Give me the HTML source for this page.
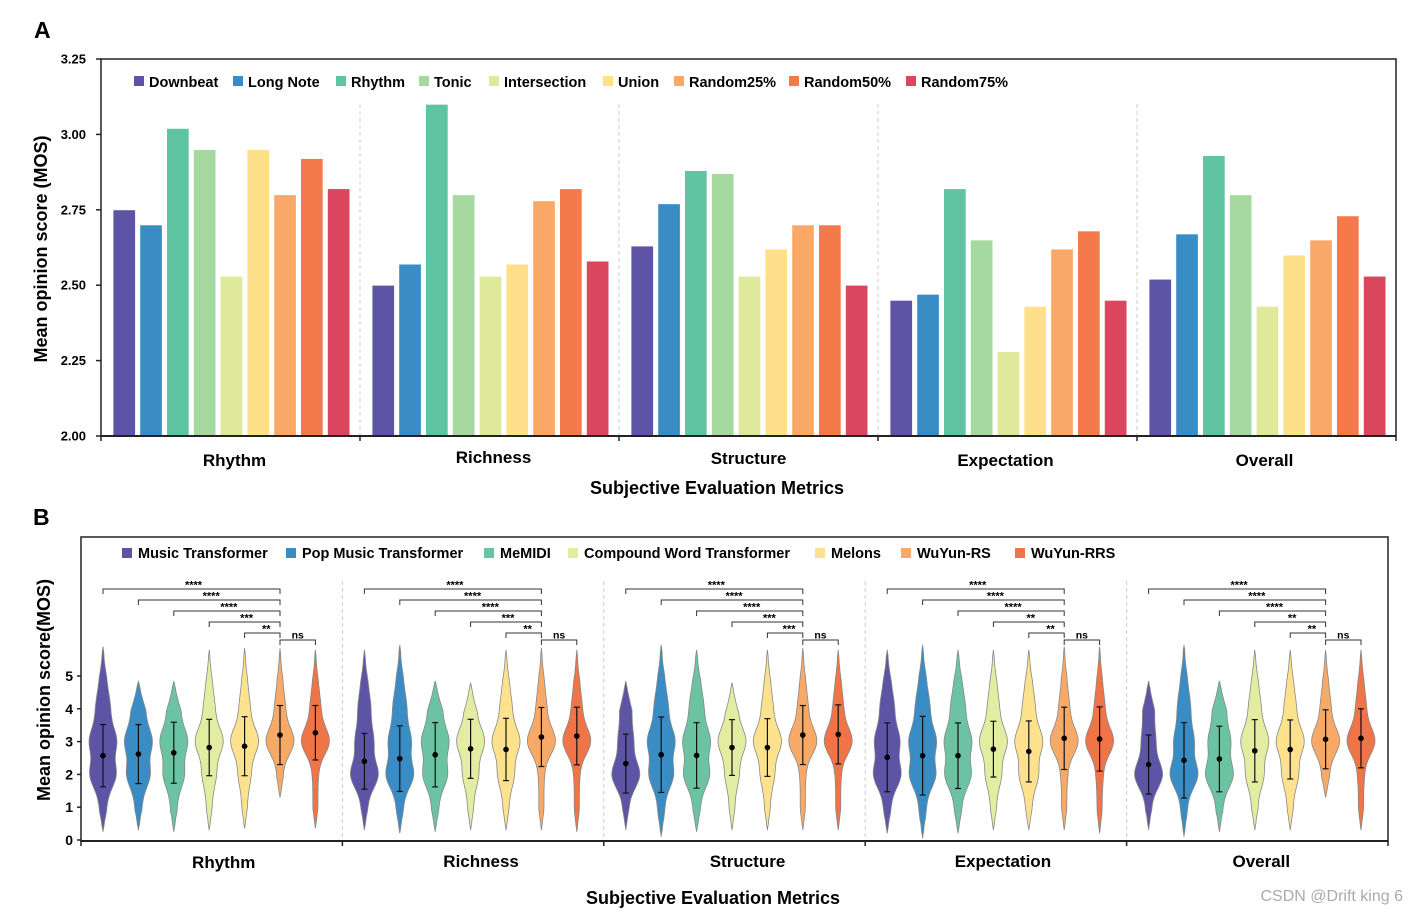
<!DOCTYPE html>
<html><head><meta charset="utf-8">
<style>
html,body{margin:0;padding:0;background:#fff;}
svg{display:block;font-family:"Liberation Sans",Arial,sans-serif;}
</style></head>
<body>
<svg id="chart" width="1418" height="914" viewBox="0 0 1418 914" xmlns="http://www.w3.org/2000/svg">
<text x="34" y="38" font-size="23" font-weight="bold">A</text>
<text x="33" y="525" font-size="23" font-weight="bold">B</text>
<g id="pa"></g>
<g id="pb"></g>
<text x="1403" y="901" font-size="16" fill="#aaa" text-anchor="end">CSDN @Drift king 6</text>
</svg>
<script>
// ---------- Panel A data ----------
const groupsA = ["Rhythm","Richness","Structure","Expectation","Overall"];
const seriesA = ["Downbeat","Long Note","Rhythm","Tonic","Intersection","Union","Random25%","Random50%","Random75%"];
const colorsA = ["#5e54a6","#3a8cc4","#5fc4a1","#a6d9a0","#dfe99c","#fee08b","#f9a867","#f47a4c","#d9465d"];
const valsRhythm = [2.75,2.70,3.02,2.95,2.53,2.95,2.80,2.92,2.82];
const valsRichness = [2.50,2.57,3.10,2.80,2.53,2.57,2.78,2.82,2.58];
const valsStructure = [2.63,2.77,2.88,2.87,2.53,2.62,2.70,2.70,2.50];
const valsExpectation = [2.45,2.47,2.82,2.65,2.28,2.43,2.62,2.68,2.45];
const valsOverall = [2.52,2.67,2.93,2.80,2.43,2.60,2.65,2.73,2.53];
const ticksA = [2.00,2.25,2.50,2.75,3.00,3.25];

// ---------- Panel B data ----------
const groupsB = ["Rhythm","Richness","Structure","Expectation","Overall"];
const seriesB = ["Music Transformer","Pop Music Transformer","MeMIDI","Compound Word Transformer","Melons","WuYun-RS","WuYun-RRS"];
const colorsB = ["#5e54a6","#3a8cc4","#6cc3a3","#e2eda2","#fde28e","#f7aa68","#ef7448"];
const meansB = [
 [2.57,2.62,2.66,2.82,2.86,3.20,3.27],
 [2.40,2.48,2.60,2.78,2.76,3.14,3.17],
 [2.33,2.60,2.58,2.82,2.82,3.20,3.22],
 [2.52,2.57,2.57,2.77,2.70,3.10,3.08],
 [2.30,2.43,2.47,2.72,2.76,3.07,3.10]];
const sdB = [
 [0.95,0.90,0.93,0.86,0.90,0.90,0.83],
 [0.85,1.00,0.98,0.90,0.95,0.90,0.88],
 [0.90,1.15,1.00,0.85,0.88,0.90,0.90],
 [1.05,1.20,1.00,0.85,0.93,0.95,0.98],
 [0.90,1.15,1.00,0.95,0.90,0.90,0.90]];
const minB = [
 [0.25,0.30,0.25,0.30,0.35,1.30,0.35],
 [0.30,0.20,0.25,0.30,0.30,0.30,0.25],
 [0.30,0.10,0.25,0.30,0.30,0.30,0.30],
 [0.20,0.05,0.20,0.30,0.30,0.30,0.20],
 [0.30,0.10,0.25,0.30,0.30,1.30,0.30]];
const maxB = [
 [5.90,4.85,4.85,5.80,5.85,5.85,5.80],
 [5.80,5.95,4.85,4.80,5.80,5.85,5.80],
 [4.85,5.95,5.80,4.80,5.80,5.85,5.80],
 [5.80,5.95,5.80,5.80,5.80,5.90,5.90],
 [4.85,5.95,4.85,5.80,5.80,5.80,5.80]];
const starsB = [
 ["****","****","****","***","**"],
 ["****","****","****","***","**"],
 ["****","****","****","***","***"],
 ["****","****","****","**","**"],
 ["****","****","****","**","**"]];
const ticksB = [0,1,2,3,4,5];

const NS="http://www.w3.org/2000/svg";
function mk(parent,tag,attrs,text){const e=document.createElementNS(NS,tag);for(const k in attrs)e.setAttribute(k,attrs[k]);if(text!==undefined)e.textContent=text;parent.appendChild(e);return e;}

// ===== Panel A =====
(function(){
 const g=document.getElementById('pa');
 const x0=101,x1=1396,yTop=59,yBot=436,vmin=2,vmax=3.25;
 const y=v=>yBot-(v-vmin)/(vmax-vmin)*(yBot-yTop);
 const gw=(x1-x0)/groupsA.length;
 const allVals=[valsRhythm,valsRichness,valsStructure,valsExpectation,valsOverall];
 const lblDx=[4,4,0,-2,-2], lblY=[466,463,464,466,466];
 for(let i=1;i<groupsA.length;i++){
  const l=mk(g,'line',{x1:x0+gw*i,x2:x0+gw*i,y1:yTop+45,y2:yBot,stroke:'#ccc','stroke-dasharray':'4,3'});
  
  
 }
 allVals.forEach((vals,gi)=>{
  vals.forEach((v,si)=>{
   const bx=x0+gi*gw+12+si*26.8;
   const r=mk(g,'rect',{x:bx,y:y(v),width:22.5,height:yBot-y(v),fill:colorsA[si],stroke:'#fff','stroke-width':0.8});
   
   
  });
  const t=mk(g,'text',{x:x0+gi*gw+gw/2+lblDx[gi],y:lblY[gi],'font-size':17,'font-weight':'bold','text-anchor':'middle'},groupsA[gi]);
  
  
 });
 mk(g,'rect',{x:x0,y:yTop,width:x1-x0,height:yBot-yTop,fill:'none',stroke:'#222','stroke-width':1.5});
 mk(g,'line',{x1:x0,x2:x1,y1:yBot,y2:yBot,stroke:'#222','stroke-width':2});
 for(let i=0;i<=groupsA.length;i++) mk(g,'line',{x1:x0+gw*i,x2:x0+gw*i,y1:yBot,y2:yBot+5,stroke:'#222','stroke-width':1.5});
 ticksA.forEach(t=>{
  mk(g,'line',{x1:x0-5,x2:x0,y1:y(t),y2:y(t),stroke:'#222','stroke-width':1.5});
  const tl=mk(g,'text',{x:86,y:y(t)+4.5,'font-size':13,'font-weight':'bold','text-anchor':'end'},t.toFixed(2));
  
  
 });
 const yt=mk(g,'text',{x:0,y:0,'font-size':18,'font-weight':'bold','text-anchor':'middle',transform:'translate(47,249) rotate(-90)'},'Mean opinion score (MOS)');
 
 
 const xt=mk(g,'text',{x:717,y:494,'font-size':18,'font-weight':'bold','text-anchor':'middle'},'Subjective Evaluation Metrics');
 
 
 const lx=[134,233,336,419,489,603,674,789,906];
 seriesA.forEach((s,i)=>{
  const lg=mk(g,'g',{});
  
  
  mk(lg,'rect',{x:lx[i],y:76,width:10,height:10,fill:colorsA[i]});
  mk(lg,'text',{x:lx[i]+15,y:87,'font-size':14.5,'font-weight':'bold'},s);
 });
})();

// ===== Panel B =====
(function(){
 const g=document.getElementById('pb');
 const x0=81,x1=1388,yTop=537,yBot=841;
 const y=v=>840-v*32.8;
 const gw=(x1-x0)/groupsB.length;
 const cx=(gi,si)=>x0+gi*gw+22+si*35.4;
 const lblDx=[12,8,13,7,4];
 for(let i=1;i<groupsB.length;i++){
  const l=mk(g,'line',{x1:x0+gw*i,x2:x0+gw*i,y1:yTop+44,y2:yBot,stroke:'#ccc','stroke-dasharray':'4,3'});
  
  
 }
 const gauss=(v,m,s)=>Math.exp(-0.5*((v-m)/s)*((v-m)/s));
 groupsB.forEach((gn,gi)=>{
  seriesB.forEach((s,si)=>{
   const m=meansB[gi][si],sd=sdB[gi][si],lo=minB[gi][si],hi=maxB[gi][si];
   const w2=Math.max(0.15,Math.min(1,(3.3-m)/1.1)), w3=Math.max(0.3,Math.min(1,(m-1.9)/1.0));
   const dens=v=>{let d=w2*gauss(v,2,0.42)+w3*gauss(v,3,0.42)+0.35*gauss(v,4,0.5)+0.12*gauss(v,5,0.5)+0.15*gauss(v,1,0.5);
     const tl=Math.min(1,(v-lo)/0.6),th=Math.min(1,(hi-v)/0.9);return d*Math.max(0,tl)*Math.max(0,th)+0.04*Math.max(0,Math.min(1,(v-lo)/0.2))*Math.max(0,Math.min(1,(hi-v)/0.2));};
   let mx=0;const N=60,pts=[];
   for(let k=0;k<=N;k++){const v=lo+(hi-lo)*k/N;const d=dens(v);pts.push([v,d]);if(d>mx)mx=d;}
   const c=cx(gi,si),hw=14;
   let p='M'+pts.map(q=>(c+q[1]/mx*hw).toFixed(1)+','+y(q[0]).toFixed(1)).join('L');
   p+='L'+pts.slice().reverse().map(q=>(c-q[1]/mx*hw).toFixed(1)+','+y(q[0]).toFixed(1)).join('L')+'Z';
   const vp=mk(g,'path',{d:p,fill:colorsB[si],stroke:'#888','stroke-width':0.8});
   
   
   mk(g,'line',{x1:c,x2:c,y1:y(m-sd),y2:y(m+sd),stroke:'#111','stroke-width':1.2});
   mk(g,'line',{x1:c-3,x2:c+3,y1:y(m-sd),y2:y(m-sd),stroke:'#111','stroke-width':1.2});
   mk(g,'line',{x1:c-3,x2:c+3,y1:y(m+sd),y2:y(m+sd),stroke:'#111','stroke-width':1.2});
   const dot=mk(g,'circle',{cx:c,cy:y(m),r:2.8,fill:'#000'});
   
   
  });
  const ys=[589,600,611,622,633];
  starsB[gi].forEach((st,bi)=>{
   const a=cx(gi,bi),b=cx(gi,5),yy=ys[bi];
   const br=mk(g,'path',{d:`M${a},${yy+5}V${yy}H${b}V${yy+5}`,fill:'none',stroke:'#333','stroke-width':1});
   
   
   mk(g,'text',{x:bi==4?(a+b)/2+4:(a+b)/2+2,y:yy-0.5,'font-size':11,'font-weight':'bold','text-anchor':'middle'},st);
  });
  const a=cx(gi,5),b=cx(gi,6);
  mk(g,'path',{d:`M${a},645V640H${b}V645`,fill:'none',stroke:'#333','stroke-width':1});
  mk(g,'text',{x:(a+b)/2,y:638.5,'font-size':10.5,'font-weight':'bold','text-anchor':'middle'},'ns');
  const t=mk(g,'text',{x:x0+gi*gw+gw/2+lblDx[gi],y:gi==0?868:867,'font-size':17,'font-weight':'bold','text-anchor':'middle'},gn);
  
  
 });
 mk(g,'rect',{x:x0,y:yTop,width:x1-x0,height:yBot-yTop,fill:'none',stroke:'#222','stroke-width':1.5});
 mk(g,'line',{x1:x0,x2:x1,y1:yBot,y2:yBot,stroke:'#222','stroke-width':2});
 for(let i=0;i<=groupsB.length;i++) mk(g,'line',{x1:x0+gw*i,x2:x0+gw*i,y1:yBot,y2:yBot+5,stroke:'#222','stroke-width':1.5});
 ticksB.forEach(t=>{
  mk(g,'line',{x1:x0-4,x2:x0,y1:y(t),y2:y(t),stroke:'#222','stroke-width':1.5});
  const tl=mk(g,'text',{x:73,y:y(t)+5,'font-size':14,'font-weight':'bold','text-anchor':'end'},String(t));
  
  
 });
 const yt=mk(g,'text',{x:0,y:0,'font-size':18,'font-weight':'bold','text-anchor':'middle',transform:'translate(50,690) rotate(-90)'},'Mean opinion score(MOS)');
 
 
 const xt=mk(g,'text',{x:713,y:904,'font-size':18,'font-weight':'bold','text-anchor':'middle'},'Subjective Evaluation Metrics');
 
 
 const lx=[122,286,484,568,815,901,1015];
 seriesB.forEach((s,i)=>{
  const lg=mk(g,'g',{});
  
  
  mk(lg,'rect',{x:lx[i],y:548,width:10,height:10,fill:colorsB[i]});
  mk(lg,'text',{x:lx[i]+16,y:558,'font-size':14.5,'font-weight':'bold'},s);
 });
})();
</script>
</body></html>
